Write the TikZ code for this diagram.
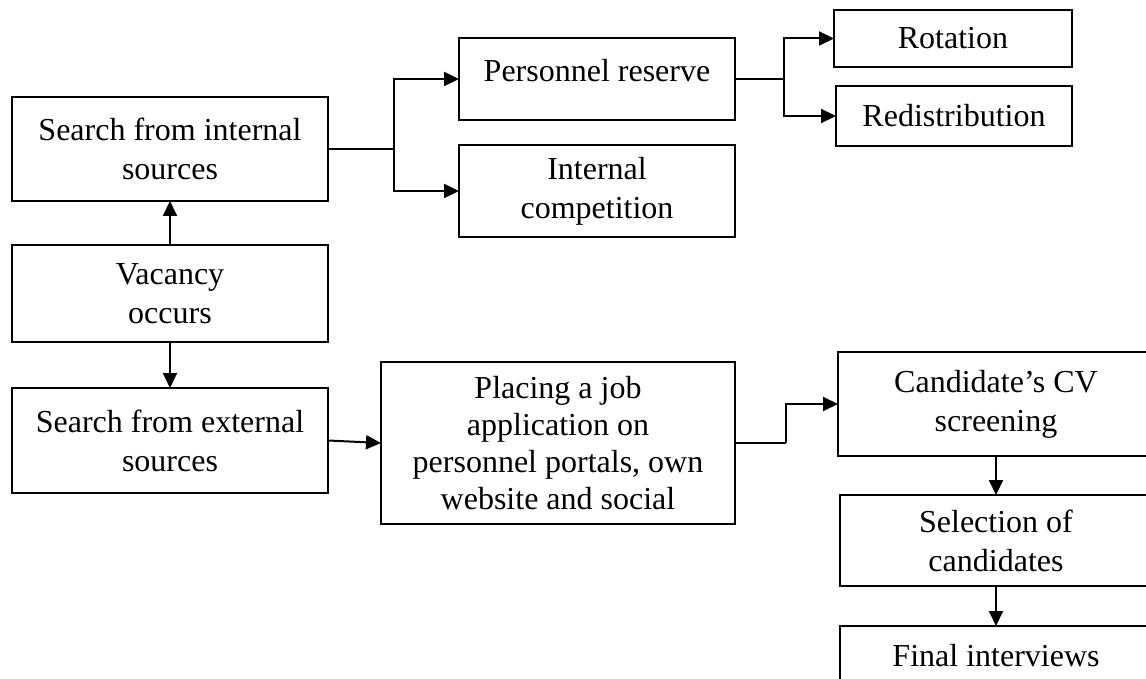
\documentclass[tikz,border=0pt]{standalone}
\usepackage{fontspec}
\setmainfont{Liberation Serif}
\usetikzlibrary{positioning, arrows.meta}

\begin{document}
\begin{tikzpicture}[x=0.5pt, y=-0.5pt]
	\tikzstyle{abox}=[draw, line width=0.9pt, inner sep=0pt, outer sep=0pt, align=center, font=\fontsize{16}{19.5}\selectfont]
	\tikzstyle{arrowline}=[draw, line width=1pt, -{Triangle[length=7.5pt, width=7pt]}]
	\tikzstyle{plainline}=[draw, line width=1pt]

	\useasboundingbox (0,0) rectangle (1146,679);
	\clip (0,0) rectangle (1146,679);

	% left column
	\node[abox, minimum width=158pt, minimum height=52pt] (intsrc) at (170,149) {Search from internal\\sources};
	\node[abox, minimum width=158pt, minimum height=48.5pt] (vac) at (170,293.5) {Vacancy\\occurs};
	\node[abox, minimum width=158pt, minimum height=52.5pt] (extsrc) at (170,440.5) {Search from external\\sources};

	% internal branch
	\node[abox, minimum width=138pt, minimum height=41pt] (pres) at (597,79) {\raisebox{8.5pt}{Personnel reserve}};
	\node[abox, minimum width=138pt, minimum height=46pt] (icomp) at (597,191) {Internal\\competition};
	\node[abox, minimum width=119pt, minimum height=28.5pt] (rot) at (953,38.5) {Rotation};
	\node[abox, minimum width=118pt, minimum height=30pt] (redist) at (954,116) {Redistribution};

	% external branch
	\node[abox, minimum width=177pt, minimum height=81pt, font=\fontsize{16}{18.5}\selectfont] (place) at (558,443) {Placing a job\\application on\\personnel portals, own\\website and social};
	\node[abox, minimum width=158pt, minimum height=52pt] (cv) at (996,404) {Candidate’s CV\\screening};
	\node[abox, minimum width=156pt, minimum height=45.5pt] (sel) at (996,540.5) {Selection of\\candidates};
	\node[abox, minimum width=156pt, minimum height=30pt] (final) at (996,656) {Final interviews};

	\coordinate (ibr) at (394,149);
	\coordinate (pbr) at (784,79);
	\coordinate (ebr) at (786,443);

	\path[arrowline] (vac) -- (intsrc);
	\path[arrowline] (vac) -- (extsrc);

	\path[plainline] (intsrc.east) -- (ibr);
	\path[arrowline] (ibr) |- (pres.west);
	\path[arrowline] (ibr) |- (icomp.west);

	\path[plainline] (pres.east) -- (pbr);
	\path[arrowline] (pbr) |- (rot.west);
	\path[arrowline] (pbr) |- (redist.west);

	\path[arrowline] (extsrc.east) -- (place.west);
	\path[plainline] (place.east) -- (ebr);
	\path[arrowline] (ebr) |- (cv.west);
	\path[arrowline] (cv) -- (sel);
	\path[arrowline] (sel) -- (final);
\end{tikzpicture}
\end{document}
